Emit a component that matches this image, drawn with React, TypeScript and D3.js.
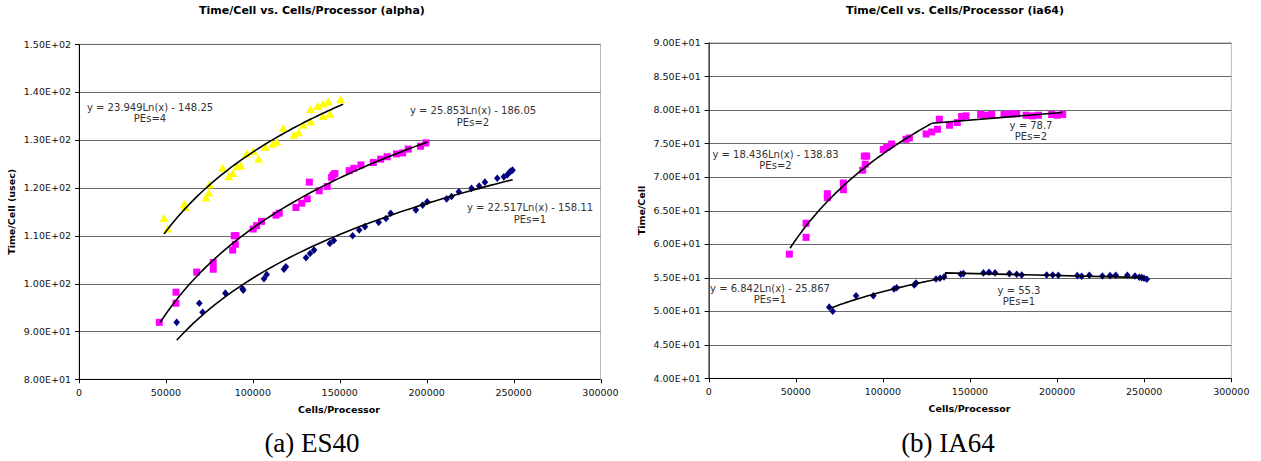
import React from "react";
import * as d3 from "d3";

// ---- data ----
const xTicks = [0, 50000, 100000, 150000, 200000, 250000, 300000];
const alphaYTicks = [80, 90, 100, 110, 120, 130, 140, 150];
const ia64YTicks = [40, 45, 50, 55, 60, 65, 70, 75, 80, 85, 90];

// alpha (ES40)
const alphaPe4 = [
  [48900, 113.6], [51000, 111.4], [60600, 116.6], [61100, 115.9], [73000, 117.9],
  [74600, 118.9], [75000, 120.6], [82600, 124.1], [86100, 122.3], [88400, 123.0],
  [90900, 124.4], [93000, 124.6], [96400, 127.1], [100200, 127.6], [103300, 126.0],
  [107100, 128.5], [111400, 129.1], [113700, 129.6], [117500, 132.4], [123600, 131.0],
  [126300, 131.5], [129000, 133.1], [133200, 133.8], [133200, 136.4], [137300, 137.0],
  [140300, 134.9], [140500, 137.5], [143400, 138.0], [144300, 135.4], [150500, 138.4],
];
const alphaPe2 = [
  [46200, 91.9], [55800, 98.2], [55800, 95.9], [67700, 102.4], [77200, 104.4],
  [77200, 103.0], [88400, 107.0], [89300, 110.0], [90300, 110.0], [89900, 108.2],
  [100200, 111.4], [102200, 112.1], [105000, 113.0], [113300, 114.3], [115200, 114.7],
  [124800, 115.9], [128100, 116.8], [131300, 117.7], [132500, 121.2], [138200, 119.4],
  [142800, 120.3], [145300, 122.2], [146200, 122.7], [147200, 123.0], [155400, 123.6],
  [158100, 124.1], [162200, 124.8], [169300, 125.3], [173500, 126.0], [177300, 126.5],
  [182700, 127.1], [186200, 127.3], [189400, 128.1], [196500, 128.7], [199600, 129.4],
];
const alphaPe1 = [
  [56200, 91.9], [69200, 95.9], [71100, 94.0], [84200, 98.0], [94100, 98.9],
  [94500, 98.6], [106400, 101.0], [108000, 101.9], [117900, 103.0], [119000, 103.5],
  [130600, 105.4], [132900, 106.3], [135200, 107.0], [144300, 108.4], [146600, 109.0],
  [157400, 110.0], [161200, 111.2], [164500, 111.9], [172400, 112.8], [176600, 113.6],
  [179300, 114.7], [193800, 115.4], [197700, 116.4], [200300, 117.1], [211500, 117.7],
  [214300, 118.2], [218500, 119.2], [225800, 119.9], [230200, 120.4], [233500, 121.2],
  [240600, 122.0], [244400, 122.3], [246300, 122.7], [247500, 123.2], [248400, 123.5],
  [249400, 123.7],
];
// trend lines y = a*Ln(x) + b over [from, to]
const alphaFits = [
  { a: 23.949, b: -148.25, from: 48900, to: 152000 },
  { a: 25.853, b: -186.05, from: 46600, to: 200500 },
  { a: 22.517, b: -158.11, from: 56200, to: 249500 },
];
const alphaLabels = [
  ["y = 23.949Ln(x) - 148.25", "PEs=4"],
  ["y = 25.853Ln(x) - 186.05", "PEs=2"],
  ["y = 22.517Ln(x) - 158.11", "PEs=1"],
];

// ia64
const ia64Pe2 = [
  [46300, 58.5], [55900, 61.0], [55900, 63.1], [68100, 67.5], [68100, 66.9],
  [77300, 68.1], [77300, 69.1], [88400, 71.0], [89300, 73.1], [90700, 73.1],
  [89900, 71.9], [100200, 74.1], [102200, 74.4], [105000, 74.9], [113300, 75.6],
  [115200, 75.8], [124800, 76.4], [128000, 76.7], [131300, 77.1], [132400, 78.6],
  [138300, 77.7], [142700, 78.1], [145200, 79.0], [147700, 79.1], [156100, 79.3],
  [159200, 79.2], [162500, 79.3], [169500, 79.3], [173000, 79.4], [176800, 79.4],
  [182200, 79.2], [185800, 79.1], [189300, 79.2], [196900, 79.3], [200100, 79.2],
  [203200, 79.3],
];
const ia64Pe1 = [
  [69200, 50.6], [71200, 50.0], [84600, 52.3], [94500, 52.3], [106400, 53.3],
  [107900, 53.5], [118000, 53.9], [119000, 54.2], [130500, 54.8], [132800, 54.9],
  [135100, 55.1], [144700, 55.5], [146200, 55.6], [157700, 55.7], [160900, 55.8],
  [164400, 55.7], [172600, 55.6], [176800, 55.5], [179700, 55.4], [194000, 55.4],
  [197500, 55.4], [200700, 55.35], [211600, 55.3], [214100, 55.2], [218500, 55.35],
  [226000, 55.25], [230400, 55.3], [233700, 55.35], [240300, 55.35], [244700, 55.25],
  [247200, 55.05], [248600, 55.0], [249900, 54.9], [251500, 54.75],
];
const ia64Fits = [
  { a: 18.436, b: -138.83, from: 46700, to: 128000 },
  { a: 6.842, b: -25.867, from: 69200, to: 136000 },
];
// the flat "y = const" pieces, as drawn
const ia64Flat = [
  [[128000, 78.0], [203000, 79.6]],
  [[136000, 55.0], [136000, 55.7], [251000, 55.0]],
];
const ia64Labels = [
  ["y = 18.436Ln(x) - 138.83", "PEs=2"],
  ["y = 78.7", "PEs=2"],
  ["y = 6.842Ln(x) - 25.867", "PEs=1"],
  ["y = 55.3", "PEs=1"],
];

// ---- layout ----
const labelPosAlpha = [[150, 107], [473, 110.7], [530, 207.7]];
const labelPosIa64 = [[775.5, 154.3], [1031, 125], [770, 288.3], [1019, 290]];

const YELLOW = "#ffff00";
const MAGENTA = "#ff00ff";
const NAVY = "#000080";

function fmtExp(v: number) {
  const [m, e] = v.toExponential(2).split("e");
  return `${m}E${e[0]}${e.slice(1).padStart(2, "0")}`;
}

function Marker({ kind, x, y, color }: any) {
  if (kind === "tri") {
    return <path d={`M${x},${y - 4.5}L${x + 4.5},${y + 3.5}L${x - 4.5},${y + 3.5}Z`} fill={color} />;
  }
  if (kind === "sq") {
    return <rect x={x - 3.5} y={y - 3.5} width={7} height={7} fill={color} />;
  }
  return <path d={`M${x},${y - 3.8}L${x + 3.3},${y}L${x},${y + 3.8}L${x - 3.3},${y}Z`} fill={color} />;
}

function Panel(props: any) {
  const { left, right, top, bottom, yDomain, yTicks, series, fits, flats, labels, labelPos,
    title, titleX, yTitle, yTitleX, xTitleX, caption, captionX } = props;
  const x = d3.scaleLinear().domain([0, 300000]).range([left, right]);
  const y = d3.scaleLinear().domain(yDomain).range([bottom, top]);
  const line = d3.line<number[]>().x(d => x(d[0])).y(d => y(d[1]));
  const font = "'DejaVu Sans', Verdana, sans-serif";

  return (
    <g>
      <text x={titleX} y={14} textAnchor="middle" fontFamily={font} fontWeight="bold" fontSize={11}>{title}</text>
      {/* plot frame */}
      <rect x={left} y={top} width={right - left} height={bottom - top} fill="white" stroke="#b8b8b8" strokeWidth={1} />
      {yTicks.map((t: number) => (
        <line key={t} x1={left} x2={right} y1={Math.round(y(t)) + 0.5} y2={Math.round(y(t)) + 0.5} stroke="#6a6a6a" strokeWidth={1} />
      ))}
      <line x1={left + 0.5} x2={left + 0.5} y1={top} y2={bottom} stroke="black" />
      <line x1={left} x2={right} y1={Math.round(bottom) + 0.5} y2={Math.round(bottom) + 0.5} stroke="black" />
      {yTicks.map((t: number) => (
        <g key={"yt" + t}>
          <line x1={left - 4} x2={left} y1={Math.round(y(t)) + 0.5} y2={Math.round(y(t)) + 0.5} stroke="black" />
          <text x={left - 8} y={y(t) + 3.3} textAnchor="end" fontFamily={font} fontSize={9.5} fill="#111">{fmtExp(t)}</text>
        </g>
      ))}
      {xTicks.map(t => (
        <g key={"xt" + t}>
          <line x1={Math.round(x(t)) + 0.5} x2={Math.round(x(t)) + 0.5} y1={bottom} y2={bottom + 4} stroke="black" />
          <text x={x(t)} y={bottom + 17} textAnchor="middle" fontFamily={font} fontSize={9.5} fill="#111">{t}</text>
        </g>
      ))}
      <text x={xTitleX} y={bottom + 34} textAnchor="middle" fontFamily={font} fontWeight="bold" fontSize={9.5}>Cells/Processor</text>
      <text transform={`translate(${yTitleX},${(top + bottom) / 2}) rotate(-90)`} textAnchor="middle"
        fontFamily={font} fontWeight="bold" fontSize={9.5}>{yTitle}</text>

      {/* points */}
      {series.map((s: any, i: number) => (
        <g key={"s" + i}>
          {s.data.map((d: number[], j: number) => (
            <Marker key={j} kind={s.kind} x={x(d[0])} y={y(d[1])} color={s.color} />
          ))}
        </g>
      ))}

      {/* trend lines */}
      {fits.map((f: any, i: number) => {
        const pts = d3.range(0, 61).map(k => {
          const v = f.from + (f.to - f.from) * k / 60;
          return [v, f.a * Math.log(v) + f.b];
        });
        return <path key={"f" + i} d={line(pts) || ""} fill="none" stroke="black" strokeWidth={1.6} />;
      })}
      {flats.map((seg: number[][], i: number) => (
        <path key={"fl" + i} d={line(seg) || ""} fill="none" stroke="black" strokeWidth={1.6} />
      ))}

      {labels.map((l: string[], i: number) => (
        <g key={"l" + i} fontFamily={font} fontSize={10} fill="#333" textAnchor="middle">
          <text x={labelPos[i][0]} y={labelPos[i][1] + 3.5}>{l[0]}</text>
          <text x={labelPos[i][0]} y={labelPos[i][1] + 15}>{l[1]}</text>
        </g>
      ))}

      <text x={captionX} y={452} textAnchor="middle" fontFamily="'Liberation Serif', serif" fontSize={27}>{caption}</text>
    </g>
  );
}

export default function App() {
  return (
    <svg width={1261} height={461} style={{ position: "absolute", left: 0, top: 0, background: "white" }}>
      <rect width={1261} height={461} fill="white" />
      <Panel
        left={79} right={600.5} top={44.3} bottom={379.3}
        yDomain={[80, 150]} yTicks={alphaYTicks}
        series={[
          { data: alphaPe4, kind: "tri", color: YELLOW },
          { data: alphaPe2, kind: "sq", color: MAGENTA },
          { data: alphaPe1, kind: "dia", color: NAVY },
        ]}
        fits={alphaFits} flats={[]} labels={alphaLabels} labelPos={labelPosAlpha}
        title="Time/Cell vs. Cells/Processor (alpha)" titleX={312}
        yTitle="Time/Cell (usec)" yTitleX={15} xTitleX={339}
        caption="(a) ES40" captionX={312}
      />
      <Panel
        left={708.7} right={1231.3} top={42.7} bottom={378.3}
        yDomain={[40, 90]} yTicks={ia64YTicks}
        series={[
          { data: ia64Pe2, kind: "sq", color: MAGENTA },
          { data: ia64Pe1, kind: "dia", color: NAVY },
        ]}
        fits={ia64Fits} flats={ia64Flat} labels={ia64Labels} labelPos={labelPosIa64}
        title="Time/Cell vs. Cells/Processor (ia64)" titleX={955}
        yTitle="Time/Cell" yTitleX={645} xTitleX={969.5}
        caption="(b) IA64" captionX={948}
      />
    </svg>
  );
}
